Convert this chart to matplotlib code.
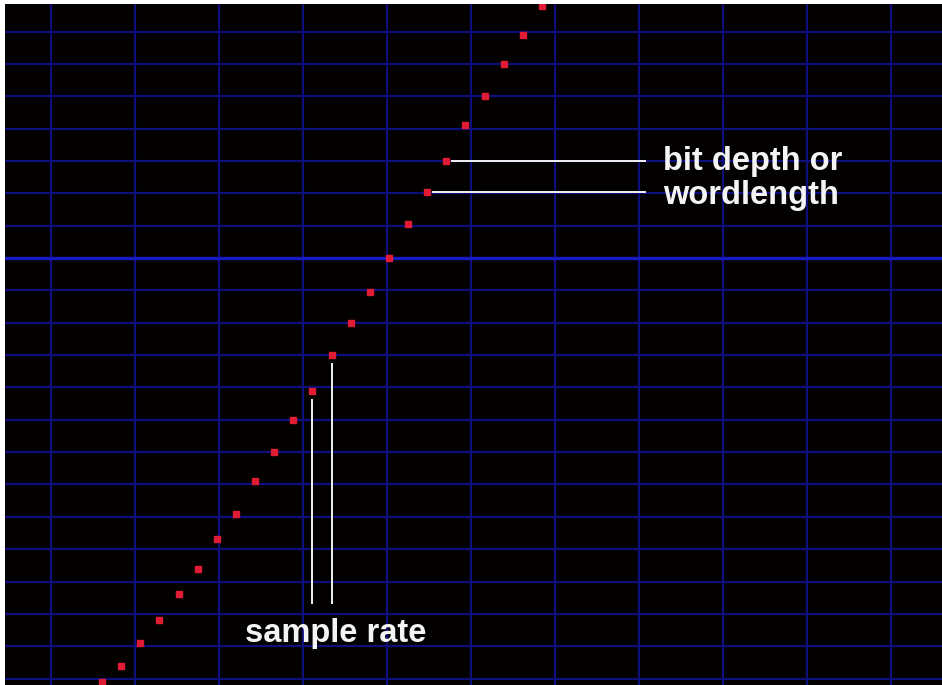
import matplotlib
matplotlib.use("Agg")
import matplotlib.pyplot as plt
import numpy as np

# ---- data (sample index -> quantised level) ----
sample_index = list(range(24))
sample_level = [-13.1, -12.6, -11.9, -11.2, -10.4, -9.6, -8.7, -7.9, -6.9, -6.0,
                -5.0, -4.1, -3.0, -2.0, -1.05, 0.0, 1.05, 2.04, 3.0, 4.1,
                5.0, 6.0, 6.9, 7.8]
label_bits_1 = "bit depth or"
label_bits_2 = "wordlength"
label_rate = "sample rate"

W, H = 942, 685
fig = plt.figure(figsize=(W / 100, H / 100), dpi=100, facecolor="white")
ax = fig.add_axes([5 / W, 0, (W - 5) / W, (H - 4) / H])
ax.set_facecolor("#030000")

# pixel mapping used for limits: x px = 102 + 19.13 n, y px = 258 - 32.35 level
dx, x0 = 19.13, 102.0
dy, y0 = 32.35, 258.0
ax.set_xlim((5 - x0) / dx, (W - x0) / dx)
ax.set_ylim(-(H - y0) / dy, (y0 - 4) / dy)

# grid
grid_col = "#0e0e7c"
vstep = 84.0 / dx
vstart = (51 - x0) / dx
for k in range(0, 12):
    ax.axvline(vstart + k * vstep, color=grid_col, lw=1.6, zorder=1)
for lv in range(-14, 9):
    if lv == 0:
        ax.axhline(0, color="#1a1ac4", lw=2.4, zorder=1.5)
    else:
        ax.axhline(lv, color=grid_col, lw=1.6, zorder=1)

# samples
ax.plot(sample_index, sample_level, ls="none", marker="s", ms=4.3,
        mfc="#e01c34", mec="#e01c34", zorder=3)

# annotation lines
xr = (645 - x0) / dx
for i in (18, 17):
    ax.plot([sample_index[i] + 6 / dx, xr], [sample_level[i], sample_level[i]],
            color="#f2f2f2", lw=1.4, zorder=2)
yb = -(603 - y0) / dy
for i in (11, 12):
    ax.plot([sample_index[i], sample_index[i]], [sample_level[i] - 9 / dy, yb],
            color="#f2f2f2", lw=1.4, zorder=2)

for a in ("top", "bottom", "left", "right"):
    ax.spines[a].set_visible(False)
ax.set_xticks([])
ax.set_yticks([])

font = dict(family="Liberation Sans", fontsize=23.5, fontweight="bold", color="#f4f4f4")
fig.text(663 / W, 1 - 170 / H, label_bits_1, ha="left", va="baseline", **font)
fig.text(663 / W, 1 - 204 / H, label_bits_2, ha="left", va="baseline", **font)
fig.text(245 / W, 1 - 642 / H, label_rate, ha="left", va="baseline", **font)

fig.savefig("out.png", dpi=100, facecolor="white")
